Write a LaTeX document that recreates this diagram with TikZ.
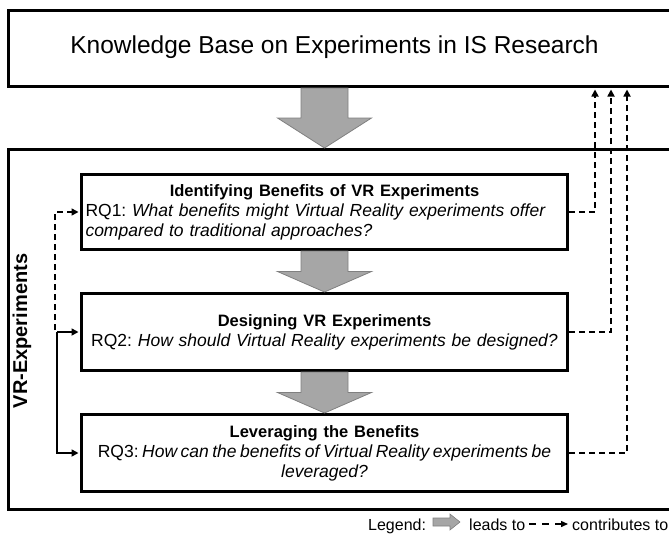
\documentclass[tikz,border=0pt]{standalone}
\usepackage{fontspec}
\setmainfont{Liberation Sans}
\usetikzlibrary{calc,arrows.meta}
\frenchspacing

% broad grey "leads to" arrow: x taken from #1, running from #2 down to #3
\newcommand\flowarrow[3]{%
  \filldraw[leadfill] let \p0=(#1), \p1=(#2), \p2=(#3), \n1={(\y1+\y2)/2} in
    (\x0-23.5pt,\y1) -- (\x0+23.5pt,\y1) -- (\x0+23.5pt,\n1) -- (\x0+47pt,\n1)
    -- (\x0,\y2) -- (\x0-47pt,\n1) -- (\x0-23.5pt,\n1) -- cycle;}
% bold heading inside a question box
\newcommand\rqhead[1]{{\fontsize{16.5}{20}\selectfont\bfseries #1}}

\begin{document}
\begin{tikzpicture}[x=1pt,y=-1pt,
  frame/.style={draw=black, line width=3pt, inner sep=0pt, anchor=north west},
  rqbox/.style={frame, minimum width=486pt, text width=478pt, align=center,
    font=\fontsize{17.5}{20}\selectfont},
  leadfill/.style={fill=black!35, draw=black!50, line width=0.8pt},
  tip/.style={-{Triangle[length=7pt,width=7pt]}, shorten >=1.5pt},
  contrib/.style={tip, dash pattern=on 6pt off 4pt, line width=1.6pt},
  feed/.style={tip, line width=1.6pt},
  legtext/.style={anchor=base west, inner sep=0pt, font=\fontsize{16}{18}\selectfont},
]
\clip (0,0) rectangle (669,533);

% knowledge base
\node[frame, minimum width=700pt, minimum height=76pt] (kb) at (7,9) {};
\node[font=\fontsize{24.5}{28}\selectfont] (kbtitle) at (334.5,47)
  {Knowledge Base on Experiments in IS Research};

% VR experiments frame
\node[frame, minimum width=700pt, minimum height=360pt] (vrframe) at (7,148) {};
\node[rotate=90, font=\bfseries\fontsize{20}{20}\selectfont] (vrlabel) at (22,331)
  {VR-Experiments};

% research questions
\node[rqbox, minimum height=75pt, align=left] (b1) at (80,173)
  {\makebox[\linewidth][c]{\rqhead{Identifying Benefits of VR Experiments}}\\
   RQ1: \textit{What benefits might Virtual Reality experiments offer}\\
   \textit{compared to traditional approaches?}};
\node[rqbox, minimum height=77pt] (b2) at (80,292)
  {\rqhead{Designing VR Experiments}\\
   RQ2: \textit{How should Virtual Reality experiments be designed?}};
\node[rqbox, minimum height=77pt] (b3) at (80,413)
  {\rqhead{Leveraging the Benefits}\\
   \mbox{\spaceskip=0.2em RQ3: \textit{How can the benefits of Virtual Reality experiments be}}\\
   \textit{leveraged?}};

% leads-to arrows
\flowarrow{b1.north}{kb.south}{vrframe.north}
\flowarrow{b1.south}{b1.south}{b2.north}
\flowarrow{b2.south}{b2.south}{b3.north}

% contributions back to the knowledge base
\draw[contrib] (b1.east) -| ($(b1.east |- kb.south)+(26,0)$);
\draw[contrib] (b2.east) -| ($(b2.east |- kb.south)+(42,0)$);
\draw[contrib] (b3.east) -| ($(b3.east |- kb.south)+(58,0)$);

% links on the left
\coordinate (fork) at ($(b2.west)+(-23,0)$);
\draw[feed] (fork) -- (b2.west);
\draw[feed] (fork) |- (b3.west);
\draw[contrib] ($(fork)+(-2,-2)$) |- (b1.west);

% legend
\node[legtext] (leg) at (368,530) {Legend:};
\coordinate (ic) at (433,522);
\filldraw[leadfill, line width=0.6pt] (ic) ++(0,-4) -- ++(17,0) -- ++(0,-4) -- ++(10,8)
  -- ++(-10,8) -- ++(0,-4) -- ++(-17,0) -- cycle;
\node[legtext] (leadsto) at (469,530) {leads to};
\node[legtext] (contr) at (572,530) {contributes to};
\draw[contrib, line width=1.4pt, dash pattern=on 7pt off 6pt, shorten >=0pt,
      -{Triangle[length=7pt,width=6pt]}]
  ([xshift=4pt,yshift=6pt]leadsto.base east) -- ([xshift=-4pt,yshift=6pt]contr.base west);
\end{tikzpicture}
\end{document}
